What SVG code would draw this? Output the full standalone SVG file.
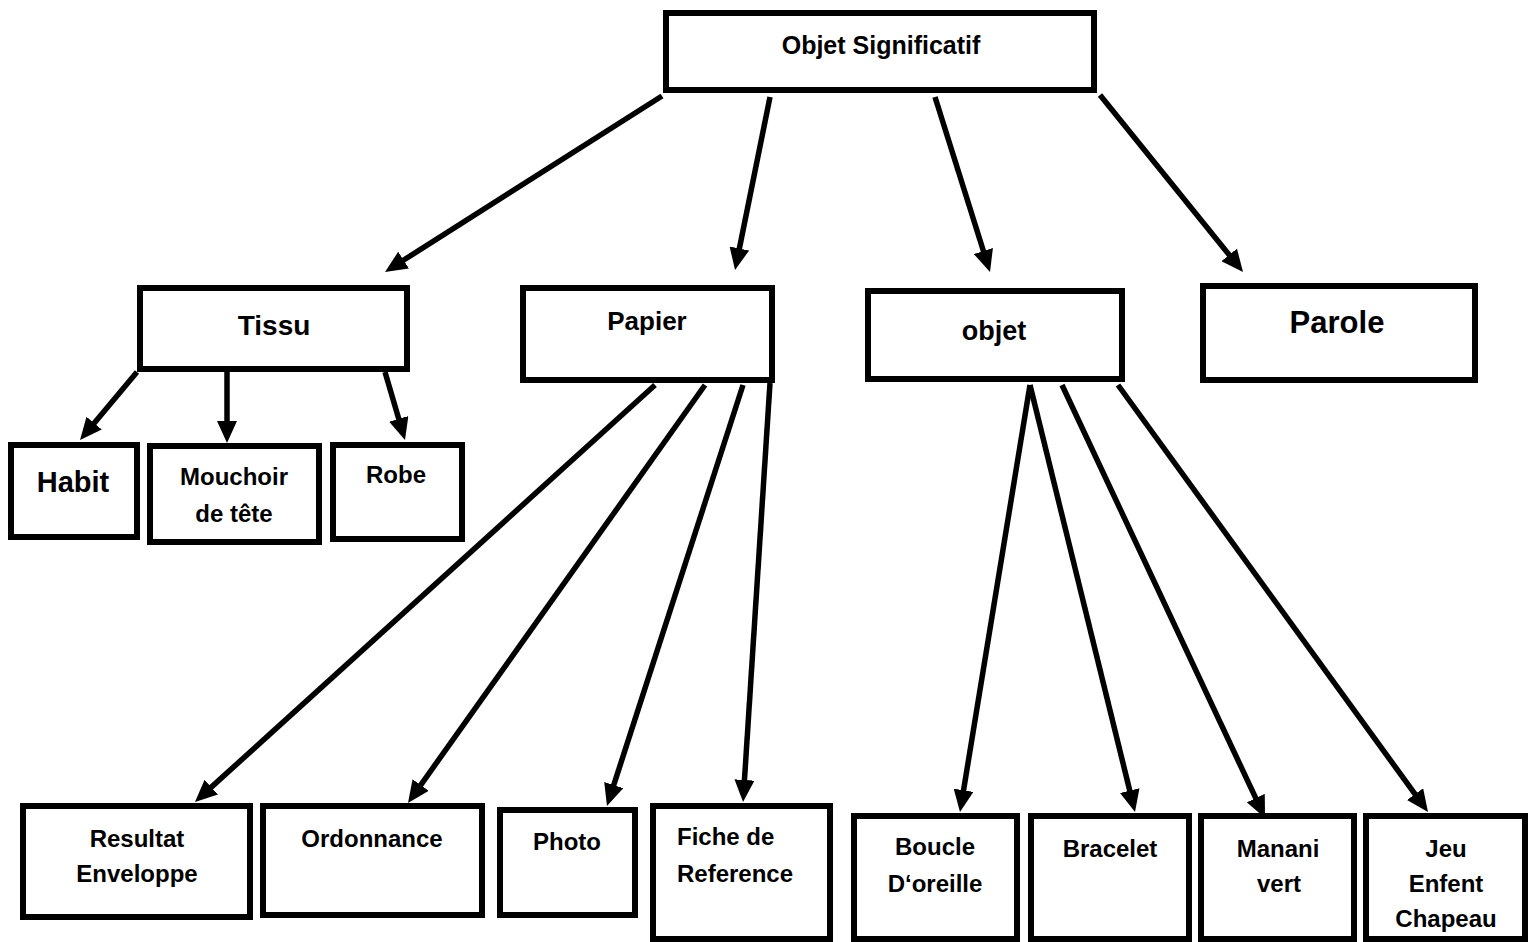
<svg xmlns="http://www.w3.org/2000/svg" width="1533" height="942" viewBox="0 0 1533 942">
<style>
.box{fill:#fff;stroke:#000;stroke-width:6}
.t{font-family:"Liberation Sans",Arial,sans-serif;font-weight:bold;fill:#000;text-anchor:middle}
.s24{font-size:24px}
.st{text-anchor:start}
.c line{stroke:#000;stroke-width:5.5;marker-end:url(#ah)}
</style>
<defs>
<marker id="ah" markerUnits="userSpaceOnUse" viewBox="0 0 22 20" markerWidth="22" markerHeight="20" refX="4" refY="10" orient="auto">
<path d="M0,0 L22,10 L0,20 z" fill="#000"/>
</marker>
</defs>
<rect width="1533" height="942" fill="#fff"/>
<g id="connectors" class="c">
<line x1="662" y1="96" x2="400.2" y2="262.3"/>
<line x1="770" y1="97" x2="738.6" y2="252.4"/>
<line x1="935" y1="97" x2="984.6" y2="254.8"/>
<line x1="1100" y1="95" x2="1231.7" y2="258"/>
<line x1="137" y1="372" x2="91.6" y2="426.2"/>
<line x1="227" y1="372" x2="227" y2="425"/>
<line x1="385" y1="372" x2="399.9" y2="422.7"/>
<line x1="655" y1="385" x2="208.3" y2="789.9"/>
<line x1="705" y1="385" x2="418.4" y2="788.3"/>
<line x1="743" y1="385" x2="612.5" y2="788.9"/>
<line x1="770" y1="383" x2="744.2" y2="784"/>
<line x1="1030" y1="385" x2="962.9" y2="794.2"/>
<line x1="1030" y1="385" x2="1130.7" y2="794.5"/>
<line x1="1062" y1="385" x2="1257.4" y2="801.7"/>
<line x1="1118" y1="385" x2="1417.4" y2="797.4"/>
</g>
<g id="objet-significatif"><rect class="box" x="666" y="13" width="428" height="77"/><text class="t" x="881" y="54" font-size="25">Objet Significatif</text></g>
<g id="tissu"><rect class="box" x="140" y="288" width="267" height="81"/><text class="t" x="274" y="335" font-size="28">Tissu</text></g>
<g id="habit"><rect class="box" x="11" y="445" width="126" height="92"/><text class="t" x="73" y="492" font-size="29">Habit</text></g>
<g id="mouchoir"><rect class="box" x="150" y="446" width="169" height="96"/><text class="t s24" x="234" y="485">Mouchoir</text><text class="t s24" x="234" y="522">de tête</text></g>
<g id="robe"><rect class="box" x="333" y="445" width="129" height="94"/><text class="t s24" x="396" y="483">Robe</text></g>
<g id="papier"><rect class="box" x="523" y="288" width="249" height="92"/><text class="t" x="647" y="330" font-size="26">Papier</text></g>
<g id="objet"><rect class="box" x="868" y="291" width="254" height="88"/><text class="t" x="994" y="340" font-size="27">objet</text></g>
<g id="parole"><rect class="box" x="1203" y="286" width="272" height="94"/><text class="t" x="1337" y="333" font-size="31">Parole</text></g>
<g id="resultat"><rect class="box" x="23" y="806" width="227" height="111"/><text class="t s24" x="137" y="847">Resultat</text><text class="t s24" x="137" y="882">Enveloppe</text></g>
<g id="ordonnance"><rect class="box" x="263" y="806" width="219" height="109"/><text class="t s24" x="372" y="847">Ordonnance</text></g>
<g id="photo"><rect class="box" x="500" y="810" width="135" height="105"/><text class="t s24" x="567" y="850">Photo</text></g>
<g id="fiche"><rect class="box" x="653" y="806" width="177" height="133"/><text class="t s24 st" x="677" y="845">Fiche de</text><text class="t s24 st" x="677" y="882">Reference</text></g>
<g id="boucle"><rect class="box" x="854" y="816" width="163" height="123"/><text class="t s24" x="935" y="855">Boucle</text><text class="t s24" x="935" y="892">D‘oreille</text></g>
<g id="bracelet"><rect class="box" x="1031" y="816" width="158" height="123"/><text class="t s24" x="1110" y="857">Bracelet</text></g>
<g id="manani"><rect class="box" x="1201" y="816" width="153" height="123"/><text class="t s24" x="1278" y="857">Manani</text><text class="t s24" x="1279" y="892">vert</text></g>
<g id="jeu"><rect class="box" x="1366" y="816" width="159" height="123"/><text class="t s24" x="1446" y="857">Jeu</text><text class="t s24" x="1446" y="892">Enfent</text><text class="t s24" x="1446" y="927">Chapeau</text></g>
</svg>
